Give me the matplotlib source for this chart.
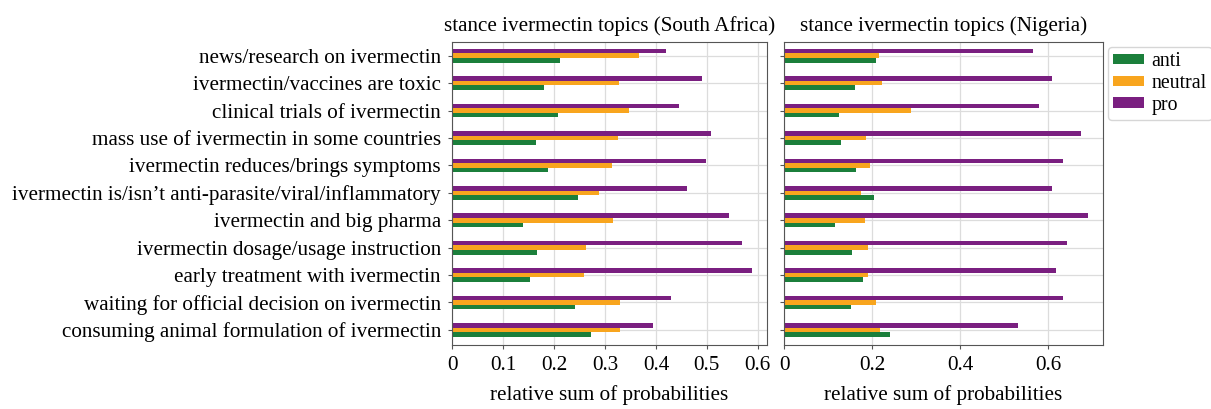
import matplotlib.pyplot as plt
import numpy as np

plt.rcParams['font.family'] = ['Liberation Serif', 'DejaVu Serif']

# categories, top to bottom as in the figure
topics = [
    "news/research on ivermectin",
    "ivermectin/vaccines are toxic",
    "clinical trials of ivermectin",
    "mass use of ivermectin in some countries",
    "ivermectin reduces/brings symptoms",
    "ivermectin is/isn\u2019t anti-parasite/viral/inflammatory",
    "ivermectin and big pharma",
    "ivermectin dosage/usage instruction",
    "early treatment with ivermectin",
    "waiting for official decision on ivermectin",
    "consuming animal formulation of ivermectin",
]

# South Africa
sa_anti = [0.212, 0.181, 0.208, 0.165, 0.188, 0.247, 0.139, 0.167, 0.152, 0.241, 0.272]
sa_neutral = [0.367, 0.327, 0.347, 0.325, 0.314, 0.289, 0.316, 0.263, 0.258, 0.329, 0.329]
sa_pro = [0.420, 0.491, 0.446, 0.508, 0.499, 0.461, 0.544, 0.569, 0.588, 0.429, 0.395]

# Nigeria
ng_anti = [0.208, 0.161, 0.125, 0.130, 0.164, 0.205, 0.116, 0.155, 0.179, 0.153, 0.242]
ng_neutral = [0.217, 0.223, 0.289, 0.187, 0.195, 0.176, 0.185, 0.192, 0.192, 0.208, 0.218]
ng_pro = [0.566, 0.610, 0.579, 0.675, 0.633, 0.610, 0.691, 0.643, 0.618, 0.633, 0.532]

colors = {"anti": "#1b7f3b", "neutral": "#f8a51e", "pro": "#7a1f80"}

fig = plt.figure(figsize=(12.11, 4.09), dpi=100)
ax1 = fig.add_axes([0.3733, 0.1565, 0.2601, 0.7408])
ax2 = fig.add_axes([0.6474, 0.1565, 0.2634, 0.7408])

n = len(topics)
y = np.arange(n)[::-1]  # first topic at top
h = 0.5 / 3

def draw(ax, anti, neutral, pro, title, xmax, ticks):
    ax.set_axisbelow(True)
    ax.grid(True, color="#dcdcdc", linewidth=0.9)
    ax.barh(y - h, anti, height=h, color=colors["anti"], label="anti")
    ax.barh(y, neutral, height=h, color=colors["neutral"], label="neutral")
    ax.barh(y + h, pro, height=h, color=colors["pro"], label="pro")
    ax.set_xlim(0, xmax)
    ax.set_ylim(-0.55, n - 0.5)
    ax.set_xticks(ticks)
    ax.set_xticklabels([("%g" % t) for t in ticks], fontsize=15.2)
    ax.set_yticks(y)
    ax.set_xlabel("relative sum of probabilities", fontsize=15.2, labelpad=7)
    ax.set_title(title, fontsize=15.2, pad=8)
    for s in ax.spines.values():
        s.set_color("#555555")
    ax.tick_params(axis="both", length=3, color="#555555")
    ax.tick_params(axis="x", pad=5)
    ax.tick_params(axis="y", pad=5)

draw(ax1, sa_anti, sa_neutral, sa_pro, "stance ivermectin topics (South Africa)",
     0.618, [0, 0.1, 0.2, 0.3, 0.4, 0.5, 0.6])
ax1.set_yticklabels(topics, fontsize=15.2)

draw(ax2, ng_anti, ng_neutral, ng_pro, "stance ivermectin topics (Nigeria)",
     0.725, [0, 0.2, 0.4, 0.6])
ax2.set_yticklabels([])

ax2.legend(loc="upper left", bbox_to_anchor=(1.0, 1.0), fontsize=14.3,
           frameon=True, edgecolor="#cccccc", handlelength=1.55,
           handleheight=0.45, borderpad=0.25, labelspacing=0.15,
           handletextpad=0.4, borderaxespad=0.25)

fig.savefig("out.png", dpi=100)
